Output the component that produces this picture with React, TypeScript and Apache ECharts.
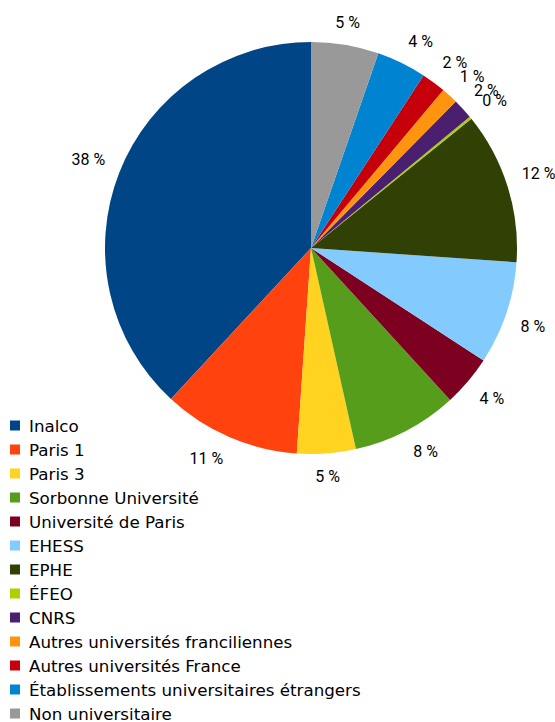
import React, { useEffect, useRef } from "react";
import * as echarts from "echarts";

const categories = [
  "Inalco",
  "Paris 1",
  "Paris 3",
  "Sorbonne Université",
  "Université de Paris",
  "EHESS",
  "EPHE",
  "ÉFEO",
  "CNRS",
  "Autres universités franciliennes",
  "Autres universités France",
  "Établissements universitaires étrangers",
  "Non universitaire",
];

const shares = [38.1, 10.8, 4.6, 8.3, 4.0, 8.1, 11.9, 0.2, 1.6, 1.3, 1.9, 3.9, 5.3];

const colors = [
  "#004586",
  "#ff420e",
  "#ffd320",
  "#579d1c",
  "#7e0021",
  "#83caff",
  "#314004",
  "#aecf00",
  "#4b1f6f",
  "#ff950e",
  "#c5000b",
  "#0084d1",
  "#999999",
];

const FONT = "DejaVu Sans";
const LABEL_FONT = "Roboto";
const CX = 311;
const CY = 248;

export default function App() {
  const ref = useRef<HTMLDivElement>(null);

  useEffect(() => {
    if (!ref.current) return;
    const chart = echarts.init(ref.current, null, { renderer: "svg" });
    const data = categories.map((name, i) => ({
      name,
      value: shares[i],
      itemStyle: { color: colors[i] },
    }));
    chart.setOption({
      animation: false,
      backgroundColor: "#ffffff",
      legend: {
        orient: "vertical",
        left: 10,
        top: 417,
        height: 330,
        padding: 0,
        icon: "rect",
        itemWidth: 10,
        itemHeight: 10,
        itemGap: 7,
        data: categories,
        textStyle: {
          fontFamily: FONT,
          fontSize: 16.7,
          lineHeight: 16,
          color: "#000000",
          padding: [0, 0, 0, 4],
        },
      },
      series: [
        {
          type: "pie",
          center: [CX, CY],
          radius: [0, 206],
          startAngle: 90,
          clockwise: false,
          silent: true,
          label: { show: false },
          labelLine: { show: false },
          itemStyle: { borderWidth: 0 },
          data,
        },
        {
          type: "pie",
          center: [CX, CY],
          radius: [0, 436],
          startAngle: 90,
          clockwise: false,
          silent: true,
          avoidLabelOverlap: false,
          minShowLabelAngle: 0,
          itemStyle: { color: "rgba(0,0,0,0)", borderWidth: 0 },
          label: {
            show: true,
            position: "inside",
            fontFamily: LABEL_FONT,
            fontSize: 16,
            color: "#000000",
            formatter: (p: any) => Math.round(p.value) + " %",
          },
          labelLine: { show: false },
          labelLayout: (p: any) => {
            const r = p.labelRect;
            const ax = r.x + r.width / 2;
            const ay = r.y + r.height / 2;
            const d = Math.hypot(ax - CX, ay - CY) || 1;
            const c = (ax - CX) / d;
            const s = -(ay - CY) / d;
            const align = Math.abs(c) < 0.21 ? "center" : c > 0 ? "left" : "right";
            const verticalAlign = Math.abs(s) < 0.09 ? "middle" : s > 0 ? "bottom" : "top";
            return { x: ax, y: ay, align, verticalAlign, hideOverlap: false };
          },
          data: categories.map((name, i) => ({ name, value: shares[i] })),
        },
      ],
    });
    return () => chart.dispose();
  }, []);

  return (
    <div
      ref={ref}
      style={{ position: "fixed", left: 0, top: 0, width: 555, height: 722 }}
    />
  );
}
